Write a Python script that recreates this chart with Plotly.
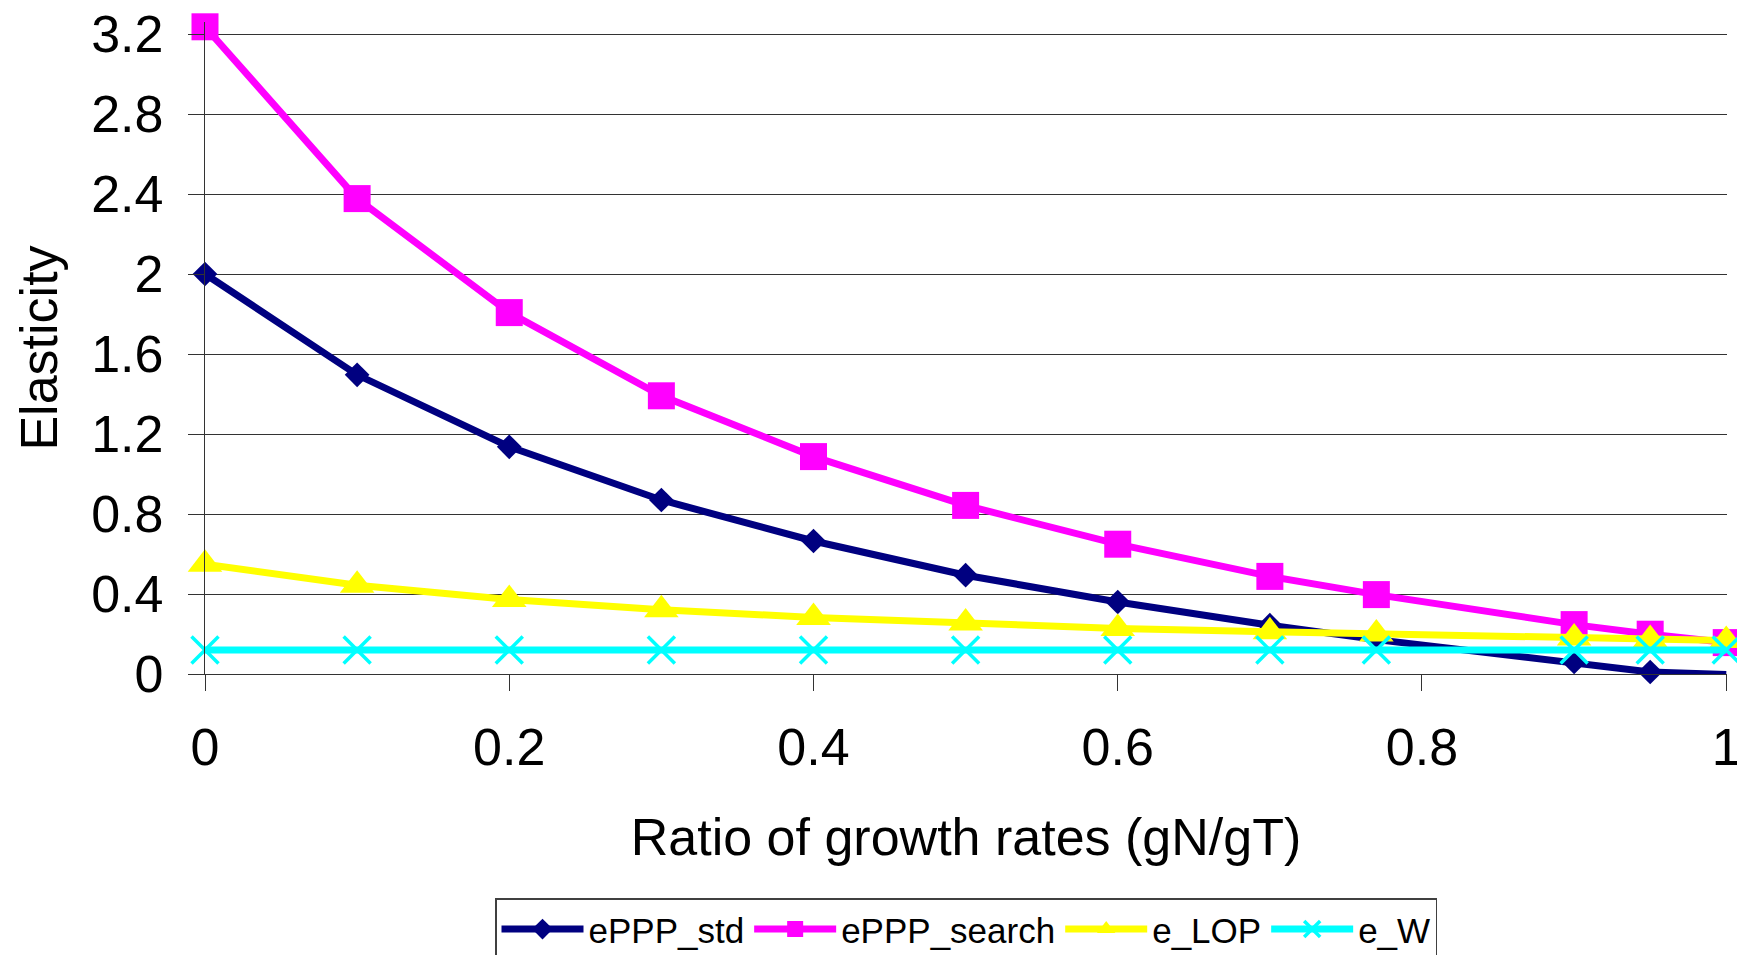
import plotly.graph_objects as go

x_ratio = [0, 0.1, 0.2, 0.3, 0.4, 0.5, 0.6, 0.7, 0.77, 0.9, 0.95, 1.0]
eppp_std = [2.0, 1.496, 1.136, 0.87, 0.665, 0.494, 0.36, 0.244, 0.172, 0.06, 0.01, -0.003]
eppp_search = [3.236, 2.377, 1.807, 1.391, 1.087, 0.843, 0.649, 0.488, 0.397, 0.247, 0.199, 0.157]
e_lop = [0.549, 0.444, 0.372, 0.321, 0.283, 0.255, 0.228, 0.211, 0.2, 0.18, 0.173, 0.168]
e_w = [0.12] * 12

y_ticks = [0, 0.4, 0.8, 1.2, 1.6, 2.0, 2.4, 2.8, 3.2]
y_labels = ["0", "0.4", "0.8", "1.2", "1.6", "2", "2.4", "2.8", "3.2"]
x_ticks = [0, 0.2, 0.4, 0.6, 0.8, 1.0]
x_labels = ["0", "0.2", "0.4", "0.6", "0.8", "1"]

FONT = "Liberation Sans, Arial, sans-serif"
LW = 7

fig = go.Figure()
fig.add_trace(go.Scatter(x=x_ratio, y=eppp_std, name="ePPP_std", mode="lines+markers",
                         line=dict(color="#000080", width=LW),
                         marker=dict(symbol="diamond", size=19, color="#000080"),
                         cliponaxis=False))
fig.add_trace(go.Scatter(x=x_ratio, y=eppp_search, name="ePPP_search", mode="lines+markers",
                         line=dict(color="#FF00FF", width=LW),
                         marker=dict(symbol="square", size=27, color="#FF00FF"),
                         cliponaxis=False))
fig.add_trace(go.Scatter(x=x_ratio, y=e_lop, name="e_LOP", mode="lines+markers",
                         line=dict(color="#FFFF00", width=LW),
                         marker=dict(symbol="triangle-up", size=30, color="#FFFF00"),
                         cliponaxis=False))
fig.add_trace(go.Scatter(x=x_ratio, y=e_w, name="e_W", mode="lines+markers",
                         line=dict(color="#00FFFF", width=LW),
                         marker=dict(symbol="x-thin", size=27, color="#00FFFF",
                                     line=dict(color="#00FFFF", width=3.5)),
                         cliponaxis=False))

W, H = 1737, 955
left, right_px = 204.5, 1726.7
ppu = 200.0
y0_px = 673.7
ymin, ymax = 0.0, 3.26
top_px = y0_px - ymax * ppu
bottom_px = y0_px - ymin * ppu
plot_h = bottom_px - top_px
legend_top_px = 898

fig.update_layout(
    width=W, height=H,
    margin=dict(l=left, r=W - right_px, t=top_px, b=H - bottom_px, pad=0, autoexpand=False),
    paper_bgcolor="white", plot_bgcolor="white",
    font=dict(family=FONT, color="black", size=52),
    showlegend=True,
    legend=dict(orientation="h", x=0.5, xanchor="center",
                y=(bottom_px - legend_top_px) / plot_h, yanchor="top",
                font=dict(size=35, family=FONT), bordercolor="#404040", borderwidth=1.5,
                bgcolor="white", itemwidth=82, tracegroupgap=0),
)
fig.update_xaxes(range=[0, 1.0005], tickvals=x_ticks, ticktext=x_labels, automargin=False,
                 showgrid=False, zeroline=False, showline=True, linecolor="#333333", linewidth=1.2,
                 ticks="outside", ticklen=16, tickwidth=1.2, tickcolor="#333333",
                 tickfont=dict(size=52), ticklabelstandoff=11, ticklabeloverflow="allow",
                 title=dict(text="Ratio of growth rates (gN/gT)", font=dict(size=52), standoff=44))
fig.update_yaxes(range=[ymin, ymax], tickvals=y_ticks, ticktext=y_labels, automargin=False,
                 showgrid=True, gridcolor="#333333", gridwidth=1.2, zeroline=False,
                 showline=True, linecolor="#333333", linewidth=1.2,
                 ticks="outside", ticklen=16, tickwidth=1.2, tickcolor="#333333",
                 tickfont=dict(size=52), ticklabelstandoff=14,
                 title=dict(text="Elasticity", font=dict(size=52), standoff=17))

fig.write_html("out.html")
